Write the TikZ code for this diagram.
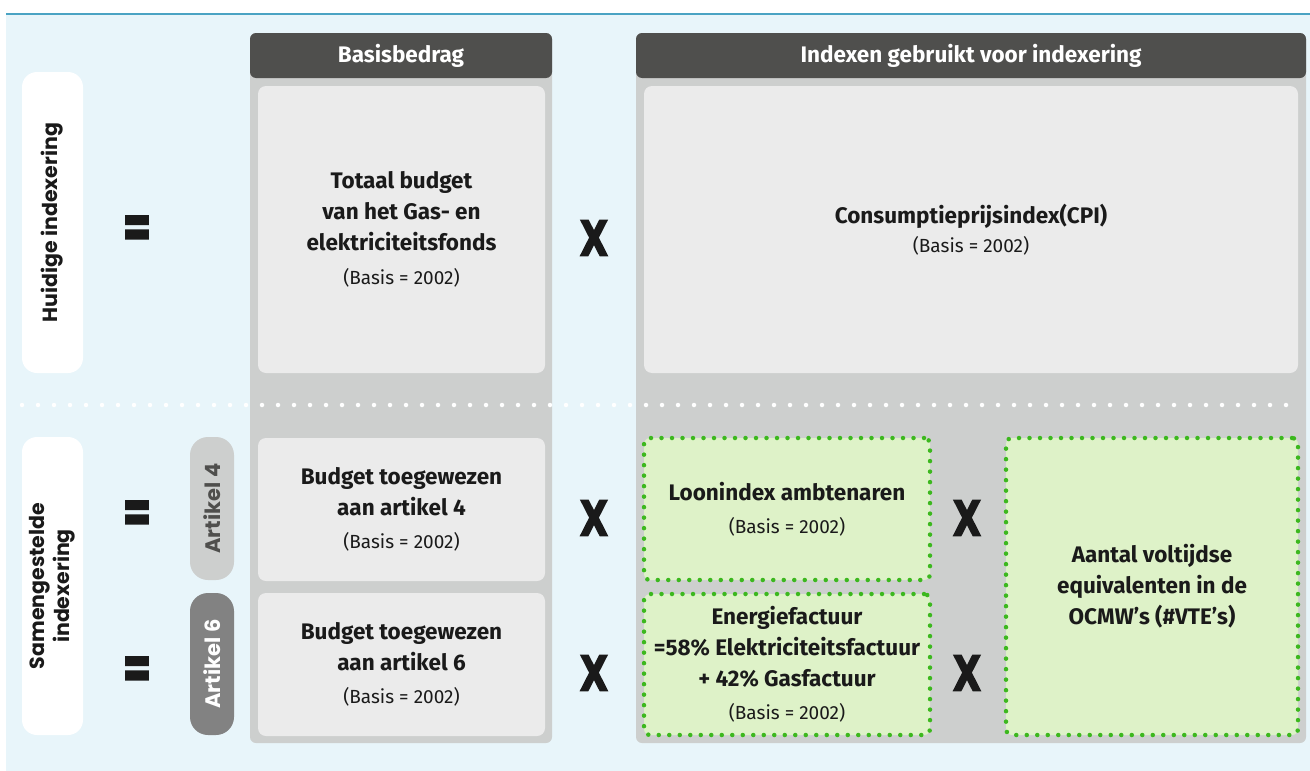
\documentclass[tikz,border=0pt]{standalone}
\usepackage{fontspec}
\setmainfont{Fira Sans}
\newfontfamily\sidefont{Poppins}
\newfontfamily\signfont{DejaVu Sans}[BoldFeatures={FakeBold=4}]
\usetikzlibrary{positioning}

\definecolor{bgblue}{HTML}{E8F5FA}
\definecolor{lineblue}{HTML}{4AA3C3}
\definecolor{colgray}{HTML}{CDCFCE}
\definecolor{headdark}{HTML}{4F4F4D}
\definecolor{boxgray}{HTML}{EBEBEB}
\definecolor{tabdark}{HTML}{828282}
\definecolor{greenfill}{HTML}{DEF2C8}
\definecolor{greendot}{HTML}{3CB81E}
\definecolor{inkblack}{HTML}{1A1A1A}

\newcommand{\basisnote}{{\mdseries\fontsize{19}{22}\selectfont (Basis = 2002)}}

\begin{document}
\begin{tikzpicture}[x=1pt, y=-1pt,
  column/.style={fill=colgray, rounded corners=6pt},
  header/.style={fill=headdark, text=white, rounded corners=6pt, inner sep=0pt,
    font=\bfseries\fontsize{22.5}{26}\selectfont},
  cellbox/.style={fill=boxgray, rounded corners=8pt, inner sep=0pt, align=center,
    text=inkblack, font=\bfseries\fontsize{22.5}{31}\selectfont},
  greenbox/.style={cellbox, fill=greenfill, draw=greendot, line width=4.5pt, line cap=round,
    dash pattern=on 0pt off 10.5pt, rounded corners=6pt},
  sidebox/.style={fill=white, rounded corners=15pt, rotate=90, inner sep=0pt, align=center,
    text=inkblack, font=\sidefont\bfseries\fontsize{20.5}{25}\selectfont},
  tabbox/.style={rounded corners=18pt, rotate=90, inner sep=0pt,
    font=\sidefont\bfseries\fontsize{21}{24}\selectfont},
  sign/.style={inner sep=0pt, text=inkblack, font=\signfont\bfseries\fontsize{34}{34}\selectfont},
  sepdots/.style={white, line width=4.5pt, line cap=round, dash pattern=on 0pt off 16pt}]
  \useasboundingbox (0,0) rectangle (1310,771);
  % background
  \fill[bgblue] (6,14) rectangle (1310,771);
  \draw[lineblue, line width=2pt] (6,14) -- (1310,14);

  % row labels
  \node[sidebox, minimum width=301, minimum height=61] (huidig) at (52.5,222.5) {Huidige indexering};
  \node[sidebox, minimum width=298, minimum height=61] (samen) at (52.5,586) {Samengestelde\\indexering};
  \node[tabbox, fill=colgray, text=headdark, minimum width=143, minimum height=44] (art4) at (212,508.5) {Artikel 4};
  \node[tabbox, fill=tabdark, text=white, minimum width=142, minimum height=44] (art6) at (212,664) {Artikel 6};

  % columns
  \fill[column] (250,33) rectangle (552,743);
  \fill[column] (636,33) rectangle (1306,743);
  \node[header, minimum width=302, minimum height=45] (basis) at (401,55.5) {Basisbedrag};
  \node[header, minimum width=670, minimum height=45] (indexen) at (971,55.5) {Indexen gebruikt voor indexering};

  % cells
  \node[cellbox, minimum width=287, minimum height=287] (totaal) at (401.5,229.5)
    {Totaal budget\\van het Gas- en\\elektriciteitsfonds\\[3pt]\basisnote};
  \node[cellbox, minimum width=654, minimum height=287] (cpi) at (971,229.5)
    {Consumptieprijsindex(CPI)\\[-2pt]\basisnote};
  \node[cellbox, minimum width=287, minimum height=143] (budget4) at (401.5,509.5)
    {Budget toegewezen\\aan artikel 4\\[2pt]\basisnote};
  \node[cellbox, minimum width=287, minimum height=143] (budget6) at (401.5,664.5)
    {Budget toegewezen\\aan artikel 6\\[2pt]\basisnote};
  \node[greenbox, minimum width=286, minimum height=142] (loon) at (787,509)
    {Loonindex ambtenaren\\[2pt]\basisnote};
  \node[greenbox, minimum width=286, minimum height=141] (energie) at (787,664.5)
    {Energiefactuur\\=58\% Elektriciteitsfactuur\\+ 42\% Gasfactuur\\[2pt]\basisnote};
  \node[greenbox, minimum width=292, minimum height=297] (vte) at (1152,586.5)
    {Aantal voltijdse\\equivalenten in de\\OCMW’s (\#VTE’s)};

  % separator
  \coordinate (sepL) at (22,405);
  \coordinate (sepR) at (1302,405);
  \draw[sepdots] (sepL) -- (sepR);

  % signs
  \node[sign] (eq1) at (137,232) {\scalebox{1.05}[1.9]{=}};
  \node[sign] (eq2) at (137,517) {\scalebox{1.05}[1.9]{=}};
  \node[sign] (eq3) at (137,673) {\scalebox{1.05}[1.9]{=}};
  \node[sign] (x1) at (594,238) {\scalebox{1.05}[1.4]{X}};
  \node[sign] (x2) at (594,518) {\scalebox{1.05}[1.4]{X}};
  \node[sign] (x3) at (594,673) {\scalebox{1.05}[1.4]{X}};
  \node[sign] (x4) at (967,518) {\scalebox{1.05}[1.4]{X}};
  \node[sign] (x5) at (967,673) {\scalebox{1.05}[1.4]{X}};
\end{tikzpicture}
\end{document}
